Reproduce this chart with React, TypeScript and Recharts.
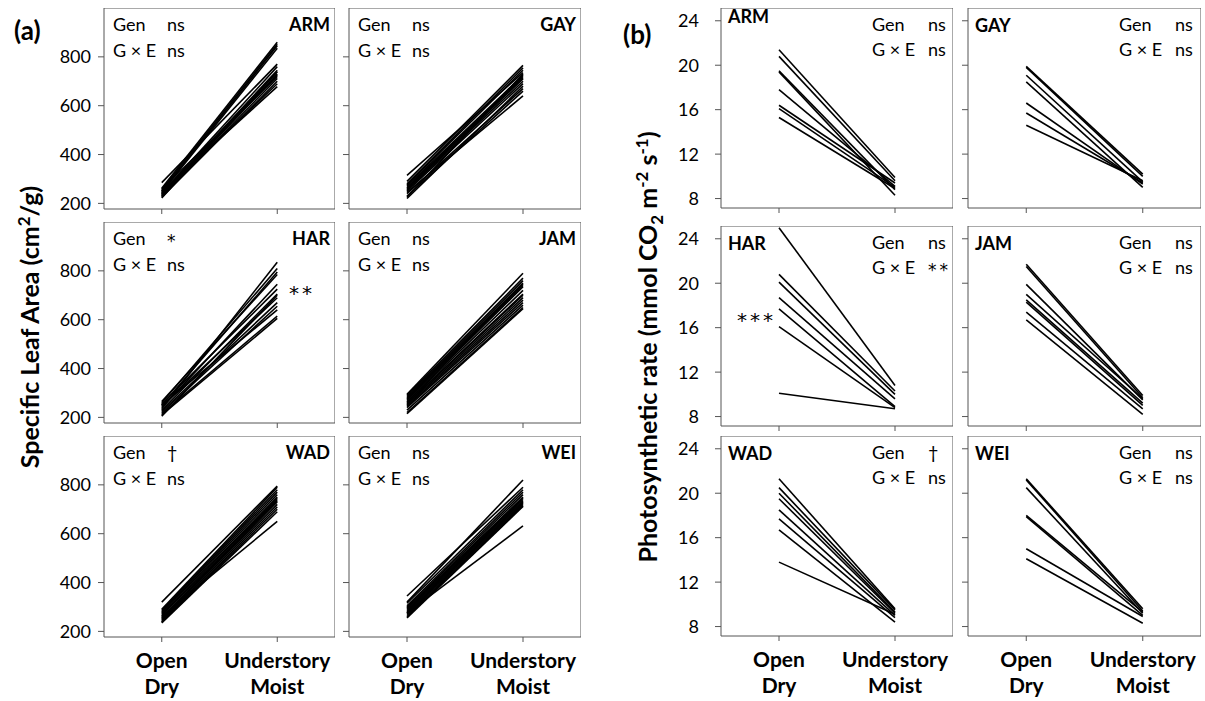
import { LineChart, Line, XAxis, YAxis, ReferenceArea } from 'recharts';

const FONT = 'Lato, "Open Sans", sans-serif';
const STAR_FONT = '"DejaVu Sans", sans-serif';

// x positions of the two growing conditions
const CONDITIONS = [1, 2];
const CONDITION_LABELS = [['Open', 'Dry'], ['Understory', 'Moist']];
const SITES = ['ARM', 'GAY', 'HAR', 'JAM', 'WAD', 'WEI'];

// (a) specific leaf area, cm2/g
const SLA_TICKS = [200, 400, 600, 800];
const slaArmOpen = [285, 262, 256, 250, 246, 242, 238, 235, 232, 230, 228, 225, 240, 250, 222, 258];
const slaArmMoist = [770, 860, 852, 845, 835, 760, 745, 738, 730, 725, 712, 700, 690, 678, 740, 720];
const slaGayOpen = [315, 290, 280, 275, 270, 265, 262, 258, 255, 250, 245, 240, 230, 220, 225];
const slaGayMoist = [735, 765, 755, 745, 725, 720, 715, 710, 700, 690, 640, 670, 660, 680, 730];
const slaHarOpen = [235, 260, 250, 265, 240, 255, 230, 245, 225, 220, 250, 215, 210, 205];
const slaHarMoist = [835, 810, 795, 785, 745, 725, 705, 690, 670, 655, 640, 615, 605, 700];
const slaJamOpen = [295, 290, 285, 280, 275, 270, 265, 262, 258, 255, 250, 245, 240, 230, 220, 215];
const slaJamMoist = [790, 770, 760, 750, 745, 740, 735, 720, 705, 700, 690, 680, 670, 660, 650, 645];
const slaWadOpen = [320, 290, 285, 280, 275, 270, 265, 258, 255, 250, 245, 240, 238, 235, 262];
const slaWadMoist = [795, 790, 780, 770, 760, 750, 745, 740, 735, 730, 720, 710, 700, 690, 650];
const slaWeiOpen = [345, 320, 315, 305, 300, 295, 290, 285, 280, 275, 270, 265, 260, 255, 275];
const slaWeiMoist = [790, 820, 780, 770, 760, 750, 745, 740, 735, 730, 725, 720, 715, 712, 632];
const slaGen = ['ns', 'ns', '*', 'ns', '\u2020', 'ns'];
const slaGxE = ['ns', 'ns', 'ns', 'ns', 'ns', 'ns'];

// (b) photosynthetic rate
const PHOTO_TICKS = [8, 12, 16, 20, 24];
const phArmOpen = [21.4, 20.8, 19.5, 19.4, 17.8, 16.4, 16.1, 15.3];
const phArmMoist = [9.9, 9.6, 8.8, 8.3, 9.1, 9.4, 9.0, 8.9];
const phGayOpen = [19.9, 19.8, 19.1, 18.5, 16.6, 15.7, 14.6];
const phGayMoist = [10.2, 10.0, 9.5, 9.0, 9.3, 9.4, 9.6];
const phHarOpen = [25.0, 20.8, 20.1, 18.7, 17.7, 16.1, 10.1];
const phHarMoist = [10.8, 10.3, 10.0, 9.6, 8.9, 8.8, 8.7];
const phJamOpen = [21.7, 21.5, 19.9, 19.0, 18.5, 18.3, 17.4, 16.7];
const phJamMoist = [9.9, 9.7, 9.5, 9.6, 9.2, 9.0, 8.7, 8.2];
const phWadOpen = [21.3, 20.5, 20.0, 19.5, 18.5, 17.7, 16.7, 13.8];
const phWadMoist = [9.6, 9.5, 9.3, 9.2, 9.0, 8.8, 8.4, 9.1];
const phWeiOpen = [21.3, 21.2, 20.5, 18.0, 17.9, 15.0, 14.1];
const phWeiMoist = [9.6, 9.4, 9.2, 9.3, 9.0, 8.9, 8.3];
const phGen = ['ns', 'ns', 'ns', 'ns', '\u2020', 'ns'];
const phGxE = ['ns', 'ns', '**', 'ns', 'ns', 'ns'];

const slaSeries = [
  [slaArmOpen, slaArmMoist], [slaGayOpen, slaGayMoist], [slaHarOpen, slaHarMoist],
  [slaJamOpen, slaJamMoist], [slaWadOpen, slaWadMoist], [slaWeiOpen, slaWeiMoist],
];
const phSeries = [
  [phArmOpen, phArmMoist], [phGayOpen, phGayMoist], [phHarOpen, phHarMoist],
  [phJamOpen, phJamMoist], [phWadOpen, phWadMoist], [phWeiOpen, phWeiMoist],
];

// panel boxes (plot areas)
const A_LEFT = [104, 349];
const A_WIDTH = [231, 232];
const A_TOP = [8, 222, 436];
const A_HEIGHT = 201;
const A_DOMAIN: [number, number] = [177, 1000];

const B_LEFT = [721, 968];
const B_WIDTH = [232, 233];
const B_TOP = [8, 226, 436];
const B_HEIGHT = 200;
const B_DOMAIN: [number, number] = [7.15, 25.15];

const EmptyTick = () => <g />;

function ConditionTick(props: any) {
  const { x, y, payload } = props;
  const lines = CONDITION_LABELS[payload.value - 1] || ['', ''];
  return (
    <text x={x} textAnchor="middle" fontFamily={FONT} fontWeight="bold" fontSize={21} fill="#000">
      <tspan x={x} y={y + 24}>{lines[0]}</tspan>
      <tspan x={x} y={y + 50}>{lines[1]}</tspan>
    </text>
  );
}

interface PanelProps {
  open: number[];
  moist: number[];
  left: number;
  top: number;
  width: number;
  height: number;
  domain: [number, number];
  ticks: number[];
  firstCol: boolean;
  bottomRow: boolean;
  tickMargin: number;
}

function Panel({ open, moist, left, top, width, height, domain, ticks, firstCol, bottomRow, tickMargin }: PanelProps) {
  const yw = firstCol ? 70 : 10;
  const xh = bottomRow ? 64 : 8;
  const data = CONDITIONS.map((c, k) => {
    const row: Record<string, number> = { x: c };
    (k === 0 ? open : moist).forEach((v, i) => { row['s' + i] = v; });
    return row;
  });
  return (
    <div style={{ position: 'absolute', left: left - yw, top }}>
      <LineChart width={width + yw} height={height + xh} data={data} margin={{ top: 0, right: 0, bottom: 0, left: 0 }}>
        <XAxis
          dataKey="x"
          type="number"
          domain={[0.5, 2.5]}
          ticks={CONDITIONS}
          height={xh}
          axisLine={false}
          tickSize={5}
          tickLine={{ stroke: '#555' }}
          tick={bottomRow ? ConditionTick : EmptyTick}
          interval={0}
        />
        <YAxis
          type="number"
          domain={domain}
          ticks={ticks}
          width={yw}
          axisLine={false}
          tickSize={6}
          tickMargin={tickMargin}
          tickLine={{ stroke: '#555' }}
          tick={firstCol ? { fontSize: 18, fill: '#000', fontFamily: FONT } : EmptyTick}
          interval={0}
        />
        <ReferenceArea x1={0.5} x2={2.5} y1={domain[0]} y2={domain[1]} fill="none" fillOpacity={0} stroke="#555" strokeWidth={1} />
        {open.map((_, i) => (
          <Line
            key={i}
            dataKey={'s' + i}
            stroke="#000"
            strokeWidth={1.6}
            dot={false}
            activeDot={false}
            isAnimationActive={false}
          />
        ))}
      </LineChart>
    </div>
  );
}

export default function App() {
  const txt = { fontFamily: FONT, fontSize: 18, fill: '#000' } as const;
  const bold = { fontFamily: FONT, fontSize: 18, fontWeight: 'bold', fill: '#000' } as const;
  const star = { fontFamily: STAR_FONT, fontSize: 17, fill: '#000', letterSpacing: 3 } as const;

  const sig = (s: string, x: number, y: number) =>
    s.includes('*')
      ? <text x={x} y={y + 2} {...star}>{s}</text>
      : <text x={x} y={y} {...txt}>{s}</text>;

  return (
    <div style={{ position: 'absolute', left: 0, top: 0, width: 1205, height: 701, background: '#fff' }}>
      {SITES.map((site, i) => {
        const col = i % 2;
        const row = Math.floor(i / 2);
        return (
          <Panel
            key={'a' + site}
            open={slaSeries[i][0]}
            moist={slaSeries[i][1]}
            left={A_LEFT[col]}
            top={A_TOP[row]}
            width={A_WIDTH[col]}
            height={A_HEIGHT}
            domain={A_DOMAIN}
            ticks={SLA_TICKS}
            firstCol={col === 0}
            bottomRow={row === 2}
            tickMargin={7}
          />
        );
      })}
      {SITES.map((site, i) => {
        const col = i % 2;
        const row = Math.floor(i / 2);
        return (
          <Panel
            key={'b' + site}
            open={phSeries[i][0]}
            moist={phSeries[i][1]}
            left={B_LEFT[col]}
            top={B_TOP[row]}
            width={B_WIDTH[col]}
            height={B_HEIGHT}
            domain={B_DOMAIN}
            ticks={PHOTO_TICKS}
            firstCol={col === 0}
            bottomRow={row === 2}
            tickMargin={16}
          />
        );
      })}
      <svg width={1205} height={701} style={{ position: 'absolute', left: 0, top: 0, pointerEvents: 'none' }}>
        <text x={14} y={40} fontFamily={FONT} fontSize={26} fontWeight="bold">(a)</text>
        <text x={623} y={44} fontFamily={FONT} fontSize={26} fontWeight="bold">(b)</text>

        <text transform="translate(39,327) rotate(-90)" textAnchor="middle" fontFamily={FONT} fontSize={25} fontWeight="bold">
          Specific Leaf Area (cm<tspan dy={-9} fontSize={17}>2</tspan><tspan dy={9}>/g)</tspan>
        </text>
        <text transform="translate(657,347) rotate(-90)" textAnchor="middle" fontFamily={FONT} fontSize={25} fontWeight="bold">
          Photosynthetic rate (mmol CO<tspan dy={6} fontSize={17}>2</tspan>
          <tspan dy={-6}> m</tspan><tspan dy={-9} fontSize={17}>-2</tspan>
          <tspan dy={9}> s</tspan><tspan dy={-9} fontSize={17}>-1</tspan>
          <tspan dy={9}>)</tspan>
        </text>

        {SITES.map((site, i) => {
          const col = i % 2;
          const row = Math.floor(i / 2);
          const L = A_LEFT[col];
          const T = A_TOP[row];
          return (
            <g key={'ta' + site}>
              <text x={L + 9} y={T + 23} {...txt}>Gen</text>
              {sig(slaGen[i], L + 63, T + 23)}
              <text x={L + 9} y={T + 49} {...txt}>G × E</text>
              {sig(slaGxE[i], L + 63, T + 49)}
              <text x={L + A_WIDTH[col] - 5} y={T + 23} textAnchor="end" {...bold}>{site}</text>
            </g>
          );
        })}
        <text x={289} y={300} {...star} fontSize={20}>**</text>

        {SITES.map((site, i) => {
          const col = i % 2;
          const row = Math.floor(i / 2);
          const L = B_LEFT[col];
          const T = B_TOP[row];
          return (
            <g key={'tb' + site}>
              <text x={L + 7} y={T + (i === 0 ? 15 : 24)} {...bold}>{site}</text>
              <text x={L + 151} y={T + 23} {...txt}>Gen</text>
              {sig(phGen[i], L + 207, T + 23)}
              <text x={L + 151} y={T + 48} {...txt}>G × E</text>
              {sig(phGxE[i], L + 207, T + 48)}
            </g>
          );
        })}
        <text x={737} y={327} {...star} fontSize={20}>***</text>
      </svg>
    </div>
  );
}
